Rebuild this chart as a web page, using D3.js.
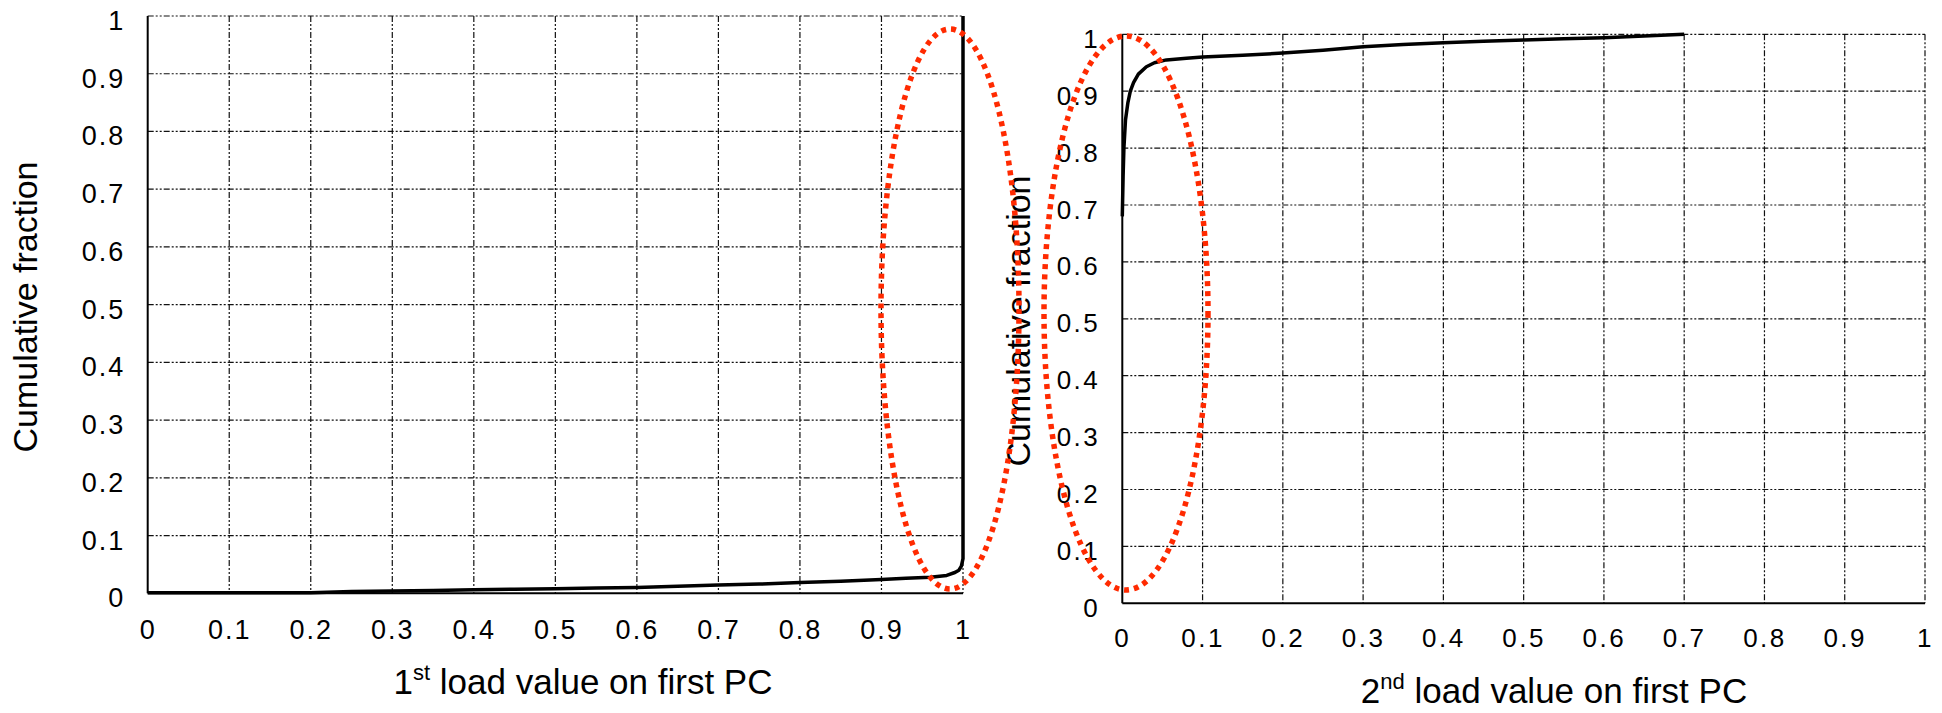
<!DOCTYPE html>
<html>
<head>
<meta charset="utf-8">
<script src="https://cdn.jsdelivr.net/npm/d3@7"></script>
<style>
  body { margin: 0; background: #fff; }
  svg { display: block; font-family: "Liberation Sans", Arial, sans-serif; }
</style>
</head>
<body>
<svg id="chart" width="1942" height="713"></svg>
<script>
// tick values and labels (same for both panels)
var tickValues = [0, 0.1, 0.2, 0.3, 0.4, 0.5, 0.6, 0.7, 0.8, 0.9, 1];
var tickLabels = ['0', '0.1', '0.2', '0.3', '0.4', '0.5', '0.6', '0.7', '0.8', '0.9', '1'];

// left panel: cumulative fraction of 1st load value
var firstLoad = [0, 0.1, 0.2, 0.22, 0.25, 0.3, 0.35, 0.4, 0.45, 0.5, 0.55, 0.6, 0.65, 0.7, 0.75, 0.8, 0.85, 0.9, 0.93, 0.96, 0.98, 0.99, 0.995, 0.998, 1, 1];
var firstFrac = [0.001, 0.001, 0.001, 0.002, 0.003, 0.004, 0.005, 0.006, 0.007, 0.008, 0.009, 0.010, 0.012, 0.0145, 0.016, 0.0185, 0.021, 0.024, 0.026, 0.028, 0.031, 0.036, 0.040, 0.047, 0.06, 1];

// right panel: cumulative fraction of 2nd load value
var secondLoad = [0, 0.001, 0.002, 0.004, 0.007, 0.010, 0.014, 0.02, 0.03, 0.04, 0.055, 0.08, 0.1, 0.15, 0.2, 0.25, 0.3, 0.35, 0.4, 0.45, 0.5, 0.55, 0.6, 0.65, 0.7];
var secondFrac = [0.68, 0.75, 0.80, 0.85, 0.88, 0.90, 0.915, 0.93, 0.943, 0.95, 0.955, 0.958, 0.96, 0.963, 0.967, 0.972, 0.978, 0.982, 0.985, 0.988, 0.99, 0.992, 0.994, 0.997, 1.0];

var xTitles = [['1', 'st', ' load value on first PC'], ['2', 'nd', ' load value on first PC']];
var yTitle = 'Cumulative fraction';

var svg = d3.select('#chart');
svg.append('rect').attr('width', 1942).attr('height', 713).attr('fill', '#fff');

var panels = [
    { left: 147.7, right: 963, top: 16, bottom: 593.3, load: firstLoad, frac: firstFrac,
      fs: 27, ls: 2, xpad: 27, ypad: 22.5, title: xTitles[0], tx: 583, ty: 694, ytx: 37, yty: 307,
      ell: { cx: 950, cy: 309, rx: 69, ry: 280 } },
    { left: 1122.3, right: 1925, top: 34.3, bottom: 603.3, load: secondLoad, frac: secondFrac,
      fs: 26, ls: 2.5, xpad: 25, ypad: 22, title: xTitles[1], tx: 1554, ty: 703, ytx: 1030, yty: 321,
      ell: { cx: 1126, cy: 313, rx: 82, ry: 277 } }
];

var gridDash = '6,2,2,2,2,2';

panels.forEach(function(p) {
    var x = d3.scaleLinear().domain([0, 1]).range([p.left, p.right]);
    var y = d3.scaleLinear().domain([0, 1]).range([p.bottom, p.top]);

    // grid
    var g = svg.append('g');
    g.selectAll('line.h').data(tickValues.slice(1)).enter().append('line')
        .attr('x1', p.left).attr('x2', p.right)
        .attr('y1', function(d) { return y(d); }).attr('y2', function(d) { return y(d); })
        .attr('stroke', '#111').attr('stroke-width', 1.2).attr('stroke-dasharray', gridDash);
    g.selectAll('line.v').data(tickValues.slice(1)).enter().append('line')
        .attr('y1', p.top).attr('y2', p.bottom)
        .attr('x1', function(d) { return x(d); }).attr('x2', function(d) { return x(d); })
        .attr('stroke', '#111').attr('stroke-width', 1.2).attr('stroke-dasharray', gridDash);

    // solid left / bottom axis lines
    svg.append('line').attr('x1', p.left).attr('x2', p.left).attr('y1', p.top).attr('y2', p.bottom)
        .attr('stroke', '#000').attr('stroke-width', 2);
    svg.append('line').attr('x1', p.left).attr('x2', p.right).attr('y1', p.bottom).attr('y2', p.bottom)
        .attr('stroke', '#000').attr('stroke-width', 2);

    // tick labels
    var xAxis = d3.axisBottom(x).tickValues(tickValues)
        .tickFormat(function(d, i) { return tickLabels[i]; }).tickSize(0).tickPadding(p.xpad);
    var yAxis = d3.axisLeft(y).tickValues(tickValues)
        .tickFormat(function(d, i) { return tickLabels[i]; }).tickSize(0).tickPadding(p.ypad);
    var styleAxis = function(sel) {
        sel.select('.domain').remove();
        sel.selectAll('text').attr('font-size', p.fs).attr('fill', '#000')
            .attr('font-family', '"Liberation Sans", Arial, sans-serif')
            .style('letter-spacing', p.ls + 'px');
    };
    svg.append('g').attr('transform', 'translate(0,' + p.bottom + ')').call(xAxis).call(styleAxis);
    svg.append('g').attr('transform', 'translate(' + p.left + ',0)').call(yAxis).call(styleAxis)
        .selectAll('text').attr('dy', '0.5em');

    // curve
    var line = d3.line()
        .x(function(d) { return x(d[0]); })
        .y(function(d) { return y(d[1]); });
    svg.append('path')
        .attr('d', line(d3.zip(p.load, p.frac)))
        .attr('fill', 'none').attr('stroke', '#000').attr('stroke-width', 3.5)
        .attr('stroke-linejoin', 'round');

    // titles
    var t = svg.append('text').attr('x', p.tx).attr('y', p.ty)
        .attr('text-anchor', 'middle').attr('font-size', 35).attr('fill', '#000');
    t.append('tspan').text(p.title[0]);
    t.append('tspan').attr('font-size', 22).attr('dy', -14).text(p.title[1]);
    t.append('tspan').attr('dy', 14).text(p.title[2]);

    svg.append('text')
        .attr('transform', 'translate(' + p.ytx + ',' + p.yty + ') rotate(-90)')
        .attr('text-anchor', 'middle').attr('font-size', 34).attr('fill', '#000')
        .text(yTitle);
});

// red dotted ellipses drawn on top
panels.forEach(function(p) {
    svg.append('ellipse')
        .attr('cx', p.ell.cx).attr('cy', p.ell.cy).attr('rx', p.ell.rx).attr('ry', p.ell.ry)
        .attr('fill', 'none').attr('stroke', '#ff2a00').attr('stroke-width', 5.5)
        .attr('stroke-dasharray', '5,5');
});
</script>
</body>
</html>
